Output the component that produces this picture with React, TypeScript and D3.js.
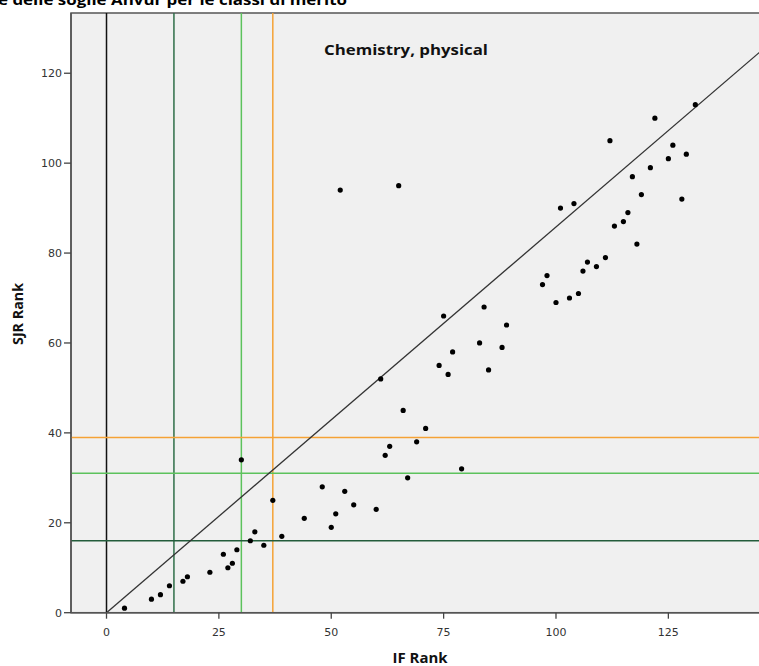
import * as d3 from "d3";

// IF rank vs SJR rank, one point per journal
const ifRank = [4, 10, 12, 14, 17, 18, 23, 26, 27, 28, 29, 30, 32, 33, 35, 37, 39, 44, 48, 50, 51, 53, 55, 60, 61, 62, 63, 66, 67, 69, 71, 74, 76, 77, 79, 83, 85, 88, 52, 65, 75, 84, 89, 97, 98, 100, 101, 103, 104, 105, 106, 107, 109, 111, 112, 113, 115, 116, 117, 118, 119, 121, 122, 125, 126, 128, 129, 131];
const sjrRank = [1, 3, 4, 6, 7, 8, 9, 13, 10, 11, 14, 34, 16, 18, 15, 25, 17, 21, 28, 19, 22, 27, 24, 23, 52, 35, 37, 45, 30, 38, 41, 55, 53, 58, 32, 60, 54, 59, 94, 95, 66, 68, 64, 73, 75, 69, 90, 70, 91, 71, 76, 78, 77, 79, 105, 86, 87, 89, 97, 82, 93, 99, 110, 101, 104, 92, 102, 113];

// threshold lines (ANVUR classes)
const vLines = [0, 15, 30, 37];
const vColors = ["#111111", "#2f6e48", "#5cc25c", "#f5a235"];
const hLines = [39, 31, 16];
const hColors = ["#f5a235", "#5cc25c", "#235c3b"];
const diagonal = [[0, 0], [146.5, 125.7]];

const xTicks = [0, 25, 50, 75, 100, 125];
const yTicks = [0, 20, 40, 60, 80, 100, 120];

export default function App() {
  const W = 759, H = 666;
  const x = d3.scaleLinear().domain([-7.9, 146.5]).range([71, 765]);
  const y = d3.scaleLinear().domain([0, 133.4]).range([612.7, 13]);
  const line = d3.line<number[]>().x((d) => x(d[0])).y((d) => y(d[1]));
  const [x0, x1] = x.range();
  const [yb, yt] = y.range();

  return (
    <svg width={W} height={H} style={{ position: "fixed", left: 0, top: 0, background: "#fff" }}>
      <text x={-2} y={5} fontFamily="Open Sans" fontWeight={700} fontSize={15} textLength={349} lengthAdjust="spacingAndGlyphs" fill="#000">
        e delle soglie Anvur per le classi di merito
      </text>

      <rect x={x0} y={yt} width={x1 - x0} height={yb - yt} fill="#f0f0f0" stroke="#555" strokeWidth={1.5} />

      {vLines.map((v, i) => (
        <line key={"v" + i} x1={x(v)} x2={x(v)} y1={yt} y2={yb} stroke={vColors[i]} strokeWidth={1.5} />
      ))}
      {hLines.map((v, i) => (
        <line key={"h" + i} x1={x0} x2={x1} y1={y(v)} y2={y(v)} stroke={hColors[i]} strokeWidth={1.5} />
      ))}

      <path d={line(diagonal) || ""} fill="none" stroke="#333" strokeWidth={1.3} />

      {ifRank.map((v, i) => (
        <circle key={i} cx={x(v)} cy={y(sjrRank[i])} r={2.6} fill="#000" />
      ))}

      {/* axes */}
      <line x1={x0} x2={x1} y1={yb} y2={yb} stroke="#555" strokeWidth={1.5} />
      <line x1={x0} x2={x0} y1={yt} y2={yb} stroke="#555" strokeWidth={1.5} />
      {xTicks.map((t) => (
        <g key={"xt" + t}>
          <line x1={x(t)} x2={x(t)} y1={yb} y2={yb + 6} stroke="#444" strokeWidth={1.3} />
          <text x={x(t)} y={636} textAnchor="middle" fontFamily="DejaVu Sans" fontSize={11} fill="#333">{t}</text>
        </g>
      ))}
      {yTicks.map((t) => (
        <g key={"yt" + t}>
          <line x1={x0 - 7} x2={x0} y1={y(t)} y2={y(t)} stroke="#444" strokeWidth={1.3} />
          <text x={62} y={y(t) + 4} textAnchor="end" fontFamily="DejaVu Sans" fontSize={11} fill="#333">{t}</text>
        </g>
      ))}

      <text x={324} y={55} fontFamily="Open Sans" fontWeight={700} fontSize={14} textLength={164} lengthAdjust="spacingAndGlyphs" fill="#111">
        Chemistry, physical
      </text>

      <text x={420} y={663} textAnchor="middle" fontFamily="Open Sans" fontWeight={700} fontSize={14} textLength={55} lengthAdjust="spacingAndGlyphs" fill="#111">IF Rank</text>
      <text transform={`translate(23,314) rotate(-90)`} textAnchor="middle" fontFamily="Open Sans" fontWeight={700} fontSize={14} textLength={62} lengthAdjust="spacingAndGlyphs" fill="#111">SJR Rank</text>
    </svg>
  );
}
